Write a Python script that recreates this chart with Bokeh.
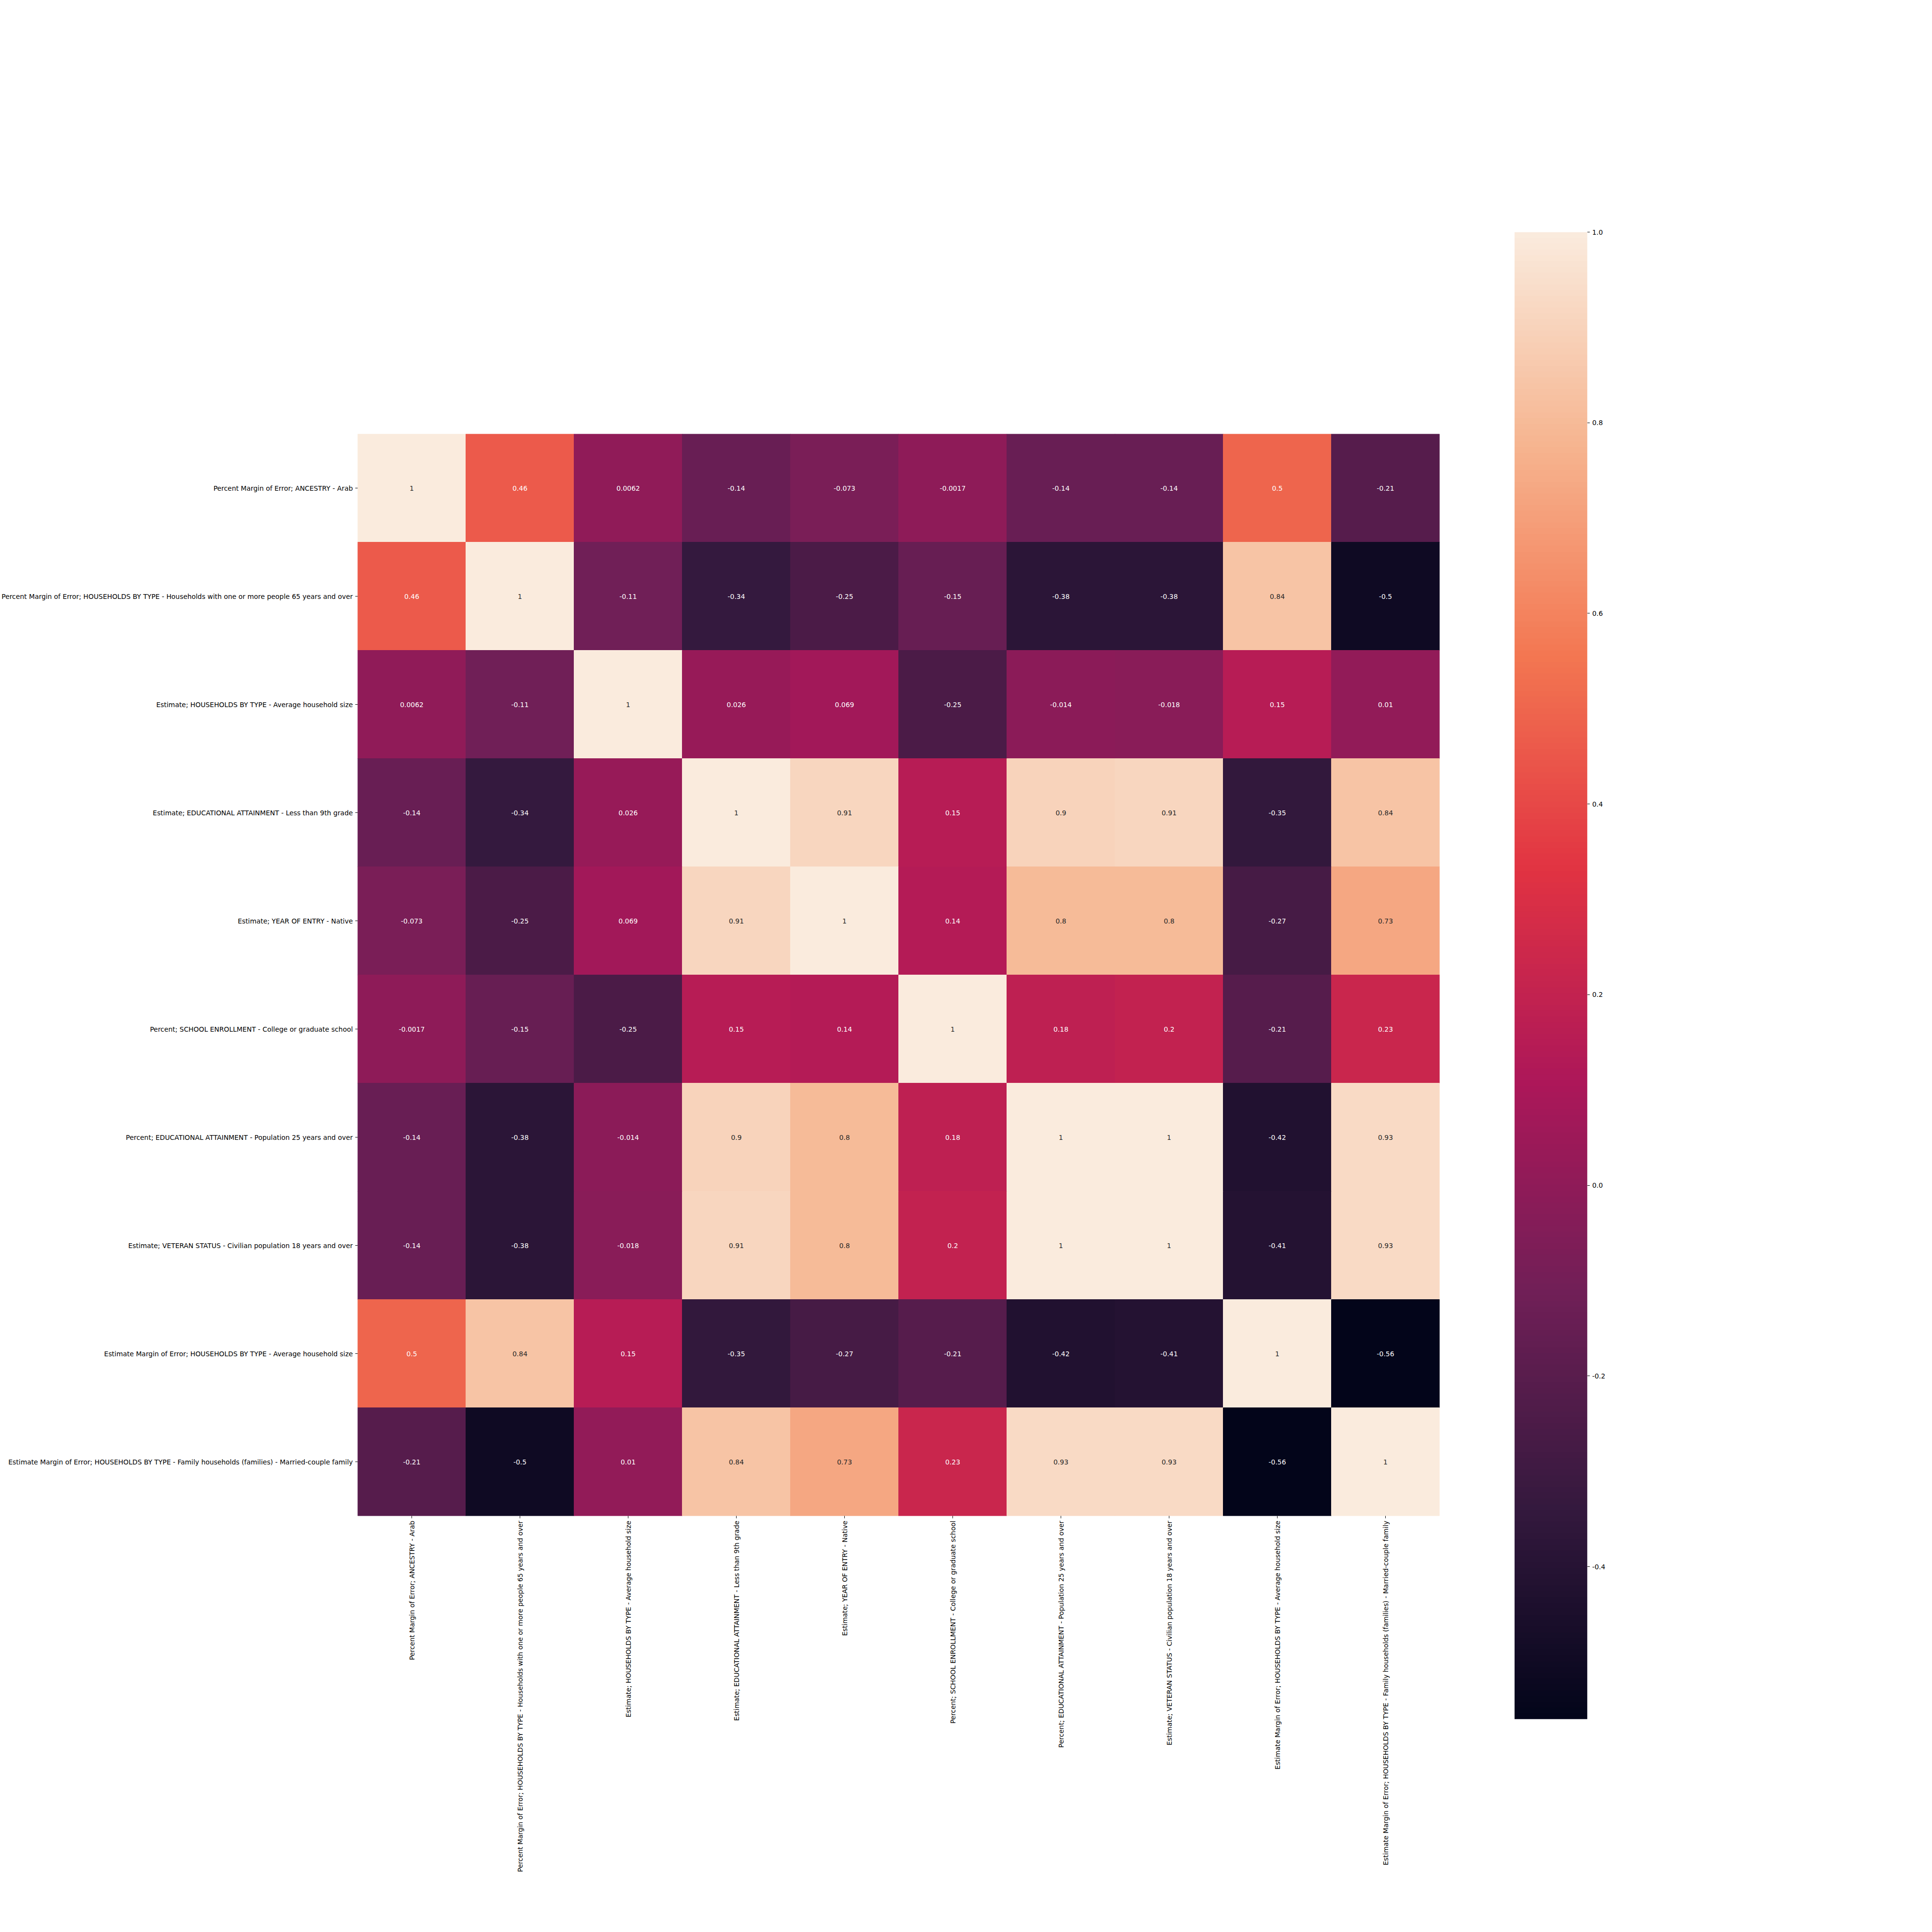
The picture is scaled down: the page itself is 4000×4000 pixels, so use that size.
import numpy as np
from math import pi
from bokeh.plotting import figure
from bokeh.models import (FactorRange, Range1d, LinearColorMapper, FixedTicker,
                          ColumnDataSource, NumeralTickFormatter)
from bokeh.layouts import row
from bokeh.embed import file_html
from bokeh.resources import INLINE
from bokeh.core.properties import value

# ---------------- data ----------------
labels = [
    "Percent Margin of Error; ANCESTRY - Arab",
    "Percent Margin of Error; HOUSEHOLDS BY TYPE - Households with one or more people 65 years and over",
    "Estimate; HOUSEHOLDS BY TYPE - Average household size",
    "Estimate; EDUCATIONAL ATTAINMENT - Less than 9th grade",
    "Estimate; YEAR OF ENTRY - Native",
    "Percent; SCHOOL ENROLLMENT - College or graduate school",
    "Percent; EDUCATIONAL ATTAINMENT - Population 25 years and over",
    "Estimate; VETERAN STATUS - Civilian population 18 years and over",
    "Estimate Margin of Error; HOUSEHOLDS BY TYPE - Average household size",
    "Estimate Margin of Error; HOUSEHOLDS BY TYPE - Family households (families) - Married-couple family",
]

row_arab = [1, 0.46, 0.0062, -0.14, -0.073, -0.0017, -0.14, -0.14, 0.5, -0.21]
row_hh65 = [0.46, 1, -0.11, -0.34, -0.25, -0.15, -0.38, -0.38, 0.84, -0.5]
row_avgsize = [0.0062, -0.11, 1, 0.026, 0.069, -0.25, -0.014, -0.018, 0.15, 0.01]
row_lt9 = [-0.14, -0.34, 0.026, 1, 0.91, 0.15, 0.9, 0.91, -0.35, 0.84]
row_native = [-0.073, -0.25, 0.069, 0.91, 1, 0.14, 0.8, 0.8, -0.27, 0.73]
row_college = [-0.0017, -0.15, -0.25, 0.15, 0.14, 1, 0.18, 0.2, -0.21, 0.23]
row_pop25 = [-0.14, -0.38, -0.014, 0.9, 0.8, 0.18, 1, 1, -0.42, 0.93]
row_veteran = [-0.14, -0.38, -0.018, 0.91, 0.8, 0.2, 1, 1, -0.41, 0.93]
row_moe_size = [0.5, 0.84, 0.15, -0.35, -0.27, -0.21, -0.42, -0.41, 1, -0.56]
row_moe_married = [-0.21, -0.5, 0.01, 0.84, 0.73, 0.23, 0.93, 0.93, -0.56, 1]

corr = [row_arab, row_hh65, row_avgsize, row_lt9, row_native, row_college,
        row_pop25, row_veteran, row_moe_size, row_moe_married]

cbar_ticks = [-0.4, -0.2, 0.0, 0.2, 0.4, 0.6, 0.8, 1.0]

# ---------------- palette (seaborn "rocket"-like) ----------------
anchors = [(0.0, "#03051a"), (1 / 7, "#35193e"), (2 / 7, "#701f57"), (3 / 7, "#ad1759"),
           (4 / 7, "#e13342"), (5 / 7, "#f37651"), (6 / 7, "#f6b48f"), (1.0, "#faebdd")]


def hex2rgb(h):
    h = h.lstrip("#")
    return [int(h[k:k + 2], 16) for k in (0, 2, 4)]


palette = []
for k in range(256):
    t = k / 255
    for a in range(len(anchors) - 1):
        t0, c0 = anchors[a]
        t1, c1 = anchors[a + 1]
        if t0 <= t <= t1:
            f = (t - t0) / (t1 - t0)
            r0, r1 = hex2rgb(c0), hex2rgb(c1)
            rgb = [round(r0[q] + f * (r1[q] - r0[q])) for q in range(3)]
            palette.append("#%02x%02x%02x" % tuple(rgb))
            break

vmin = min(min(r) for r in corr)
vmax = max(max(r) for r in corr)
mapper = LinearColorMapper(palette=palette, low=vmin, high=vmax)


def lum(hexc):
    out = []
    for c in hex2rgb(hexc):
        c = c / 255
        out.append(c / 12.92 if c <= 0.03928 else ((c + 0.055) / 1.055) ** 2.4)
    return 0.2126 * out[0] + 0.7152 * out[1] + 0.0722 * out[2]


xs, ys, vs, ts, tcs = [], [], [], [], []
for i, rl in enumerate(labels):
    for j, cl in enumerate(labels):
        v = corr[i][j]
        xs.append(cl)
        ys.append(rl)
        vs.append(v)
        ts.append(f"{v:.2g}")
        idx = int(round((v - vmin) / (vmax - vmin) * 255))
        idx = max(0, min(255, idx))
        tcs.append("#262626" if lum(palette[idx]) > 0.408 else "#ffffff")

src = ColumnDataSource(dict(x=xs, y=ys, v=vs, t=ts, tc=tcs))

FONT = "DejaVu Sans"
FS = "13.9px"

p = figure(x_range=FactorRange(*labels), y_range=FactorRange(*labels[::-1]),
           frame_width=2240, frame_height=2240,
           min_border_top=898, min_border_left=5, min_border_right=15, min_border_bottom=5,
           output_backend="svg", toolbar_location=None)
p.frame_align = False
p.rect(x="x", y="y", width=1, height=1, source=src,
       fill_color={"field": "v", "transform": mapper},
       line_color={"field": "v", "transform": mapper}, line_width=1)
p.text(x="x", y="y", text="t", source=src, text_color="tc",
       text_align="center", text_baseline="middle",
       text_font=value(FONT), text_font_size=value(FS))

p.xaxis.major_label_orientation = pi / 2
for ax in (p.xaxis, p.yaxis):
    ax.major_label_text_font = FONT
    ax.major_label_text_font_size = FS
    ax.major_label_text_color = "#000000"
    ax.major_tick_out = 5
    ax.major_tick_in = 0
    ax.major_tick_line_width = 1
    ax.major_tick_line_color = "#000000"
    ax.minor_tick_line_color = None
    ax.axis_line_color = None
    ax.major_label_standoff = 5
p.grid.visible = False
p.outline_line_color = None

# ---------------- colorbar ----------------
p2 = figure(x_range=Range1d(0, 1), y_range=Range1d(vmin, vmax),
            frame_width=151, frame_height=3079, y_axis_location="right",
            min_border_top=480, min_border_left=140, min_border_right=10, min_border_bottom=5,
            output_backend="svg", toolbar_location=None)
p2.frame_align = False
grad = np.linspace(vmin, vmax, 512).reshape(512, 1)
p2.image(image=[grad], x=0, y=vmin, dw=1, dh=vmax - vmin, color_mapper=mapper)
p2.xaxis.visible = False
p2.grid.visible = False
p2.outline_line_color = None
p2.yaxis.ticker = FixedTicker(ticks=cbar_ticks)
p2.yaxis.formatter = NumeralTickFormatter(format="0.0")
p2.yaxis.major_label_text_font = FONT
p2.yaxis.major_label_text_font_size = FS
p2.yaxis.major_label_text_color = "#000000"
p2.yaxis.major_tick_out = 5
p2.yaxis.major_tick_in = 0
p2.yaxis.minor_tick_line_color = None
p2.yaxis.axis_line_color = None
p2.yaxis.major_label_standoff = 5

layout = row(p, p2)
open("out.html", "w").write(file_html(layout, INLINE))
